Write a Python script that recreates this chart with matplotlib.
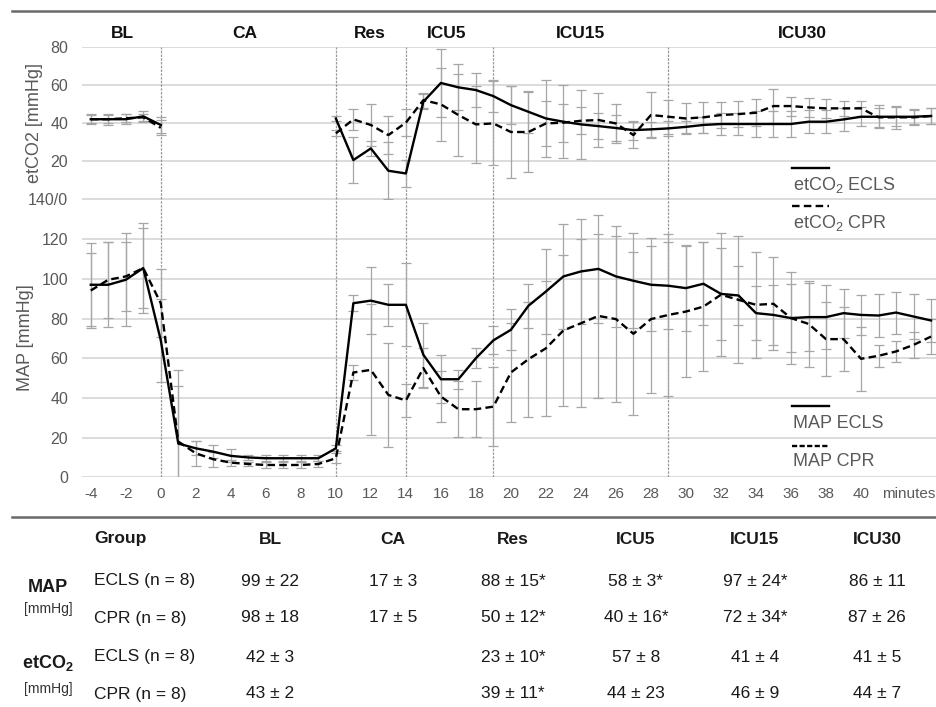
"""
MAP and etCO2 time course, ECLS vs CPR, with summary table below.
"""

import numpy as np
import matplotlib
matplotlib.use("Agg")
import matplotlib.pyplot as plt
from matplotlib.lines import Line2D
from matplotlib import transforms

plt.rcParams['font.family'] = ['Liberation Sans', 'DejaVu Sans']
plt.rcParams['mathtext.fontset'] = 'custom'
plt.rcParams['mathtext.rm'] = 'Liberation Sans'
plt.rcParams['mathtext.it'] = 'Liberation Sans:italic'
plt.rcParams['mathtext.bf'] = 'Liberation Sans:bold'

nan = np.nan

# time axis (minutes), one point per minute
minutes = list(range(-4, 45))

# MAP [mmHg]
map_ecls = [97, 97, 99.5, 105.4, 69,
            17, 14.6, 12.9, 10.8, 10, 9.6, 9.6, 9.6, 9.6,
            14.6, 87.7, 89, 86.9, 86.9, 61.7, 49.4, 49.4, 60, 69,
            74.3, 86.4, 93.6, 101.2, 103.7, 105, 101.2, 99, 97, 96.5,
            95.3, 97.5, 92.4, 91.6, 82.7, 81.8, 80.2, 80.7, 80.7, 82.7,
            81.8, 81.5, 83, 81, 79]
map_ecls_sd = [21, 21.5, 23.5, 22.6, 21,
               29, 3.5, 3.4, 3.3, 1.3, 1.5, 1.5, 1.5, 1.5,
               1.5, 4, 17, 10.6, 21, 16, 12, 4.7, 5, 7,
               10.4, 11, 21.4, 26.5, 26.4, 27.3, 25.5, 24, 23.5, 22,
               21.5, 21, 23, 15, 13.5, 15, 17, 17, 16.3, 12.3,
               10, 11, 10.6, 11.3, 10.7]
map_cpr = [94.1, 99.5, 101.2, 105.4, 87.7,
           18, 12.1, 9.1, 7.4, 6.7, 6.2, 6.2, 6.2, 6.7,
           9.6, 52.8, 54.1, 41.5, 38.7, 55, 40.7, 34.3, 34.3, 35.6,
           52.8, 59.5, 65, 74, 77.6, 81.3, 79.7, 72.3, 79.7, 81.8,
           83.5, 86, 92, 89.4, 86.9, 87.4, 80.2, 77.3, 69.6, 69.6,
           59.7, 61.2, 63.4, 66.7, 70.9]
map_cpr_sd = [19, 19, 17.5, 20, 17,
              36, 6.4, 3.7, 1.5, 1, 1.5, 1.5, 1.5, 1.5,
              2.5, 4, 33, 26.4, 8.4, 10, 13, 14, 14, 20,
              25, 29, 34, 38, 42.4, 41.5, 42, 41, 37, 41,
              33, 32.5, 31, 32, 26.7, 23.5, 23, 21.5, 18.5, 16.3,
              16, 5.7, 5.5, 6.7, 8.9]

# etCO2 [mmHg], not measured during CA
co2_ecls = [42, 42, 42, 43.5, 39,
            nan, nan, nan, nan, nan, nan, nan, nan, nan,
            42.4, 20.6, 26.7, 15, 13.6, 51.2, 61, 58.7, 57.3, 54.1,
            49.4, 45.9, 42.4, 40.7, 39.3, 38.4, 37.4, 36.3, 36.7, 37.2,
            38, 39, 39.5, 39.5, 39.5, 39.5, 39.5, 40.7, 40.7, 41.9,
            43.3, 43.3, 43.3, 43.3, 43.7]
co2_ecls_sd = [2.5, 3, 2.5, 3, 4,
               nan, nan, nan, nan, nan, nan, nan, nan, nan,
               1.5, 12, 4, 15, 7, 4, 18, 12, 9, 8.5,
               10, 11, 20, 19, 18, 7, 7, 5, 4, 4,
               3, 4, 6, 6, 7, 7, 7, 6, 6, 6,
               5, 6, 5, 4, 4]
co2_cpr = [42, 42, 42.5, 43, 37.5,
           nan, nan, nan, nan, nan, nan, nan, nan, nan,
           34.6, 41.9, 39, 33.7, 40.2, 52, 49.8, 44.2, 39.3, 39.8,
           35.3, 35.3, 39.8, 40.2, 41.2, 41.6, 39.8, 33.7, 44.2, 43.3,
           42.4, 43, 44.2, 44.7, 45.4, 48.9, 48.9, 48.2, 47.7, 47.7,
           47.7, 43, 43, 43, 43.7]
co2_cpr_sd = [2, 2, 2, 2, 4,
              nan, nan, nan, nan, nan, nan, nan, nan, nan,
              1.5, 5.3, 11, 10, 7, 4, 19, 21.5, 20, 22,
              24, 21, 12, 10, 7, 14, 10, 7, 12, 9,
              8, 8, 7, 7, 7, 9, 5, 5, 5, 4,
              4, 5, 6, 4, 4]

# phases
phase_names = ['BL', 'CA', 'Res', 'ICU5', 'ICU15', 'ICU30']
phase_label_x = [-2.2, 4.8, 11.95, 16.3, 23.95, 36.65]
phase_bounds = [0, 10, 14, 19, 29]

# summary table
table_cols = ['BL', 'CA', 'Res', 'ICU5', 'ICU15', 'ICU30']
table_groups = ['ECLS (n = 8)', 'CPR (n = 8)', 'ECLS (n = 8)', 'CPR (n = 8)']
map_ecls_row = ['99 ± 22', '17 ± 3', '88 ± 15*', '58 ± 3*', '97 ± 24*', '86 ± 11']
map_cpr_row = ['98 ± 18', '17 ± 5', '50 ± 12*', '40 ± 16*', '72 ± 34*', '87 ± 26']
co2_ecls_row = ['42 ± 3', '', '23 ± 10*', '57 ± 8', '41 ± 4', '41 ± 5']
co2_cpr_row = ['43 ± 2', '', '39 ± 11*', '44 ± 23', '46 ± 9', '44 ± 7']

W, H = 937, 707
fig = plt.figure(figsize=(W / 100, H / 100), dpi=100)


def fx(px):
    return px / W


def fy(py):
    return 1 - py / H


GRAY_TXT = '#595959'
GRID = '#d9d9d9'
EBAR = '#a6a6a6'

ax_map = fig.add_axes([fx(82), fy(477.3), fx(937) - fx(82), (477.3 - 199.4) / H])
ax_co2 = fig.add_axes([fx(82), fy(199.4), fx(937) - fx(82), (199.4 - 46.7) / H],
                      sharex=ax_map)

dash = (3.2, 1.8)
for ax, ecls, ecls_sd, cpr, cpr_sd in [
        (ax_map, map_ecls, map_ecls_sd, map_cpr, map_cpr_sd),
        (ax_co2, co2_ecls, co2_ecls_sd, co2_cpr, co2_cpr_sd)]:
    ax.errorbar(minutes, ecls, yerr=ecls_sd, fmt='none', ecolor=EBAR,
                elinewidth=0.9, capsize=3.6, capthick=0.9, zorder=2)
    ax.errorbar(minutes, cpr, yerr=cpr_sd, fmt='none', ecolor=EBAR,
                elinewidth=0.9, capsize=3.6, capthick=0.9, zorder=2)
    ax.plot(minutes, ecls, color='black', lw=1.7, zorder=4)
    ax.plot(minutes, cpr, color='black', lw=1.7, dashes=dash, zorder=4)
    for b in phase_bounds:
        ax.axvline(b, color='#9a9a9a', lw=0.9, ls=(0, (2, 1)), zorder=1)
    ax.grid(axis='y', color=GRID, lw=1.3, zorder=0)
    ax.set_axisbelow(True)
    for s in ax.spines.values():
        s.set_visible(False)
    ax.tick_params(length=0, labelcolor=GRAY_TXT)

ax_map.set_xlim(-4.5, 44.34)
ax_map.set_ylim(0, 140)
ax_map.set_yticks(range(0, 141, 20))
ax_map.set_yticklabels([str(v) for v in range(0, 121, 20)] + ['140/0'])
ax_map.tick_params(axis='y', labelsize=11.5, pad=10)
xt = list(range(-4, 41, 2))
ax_map.set_xticks(xt + [42.7])
ax_map.set_xticklabels([str(v) for v in xt] + ['minutes'])
ax_map.tick_params(axis='x', labelsize=11, pad=7)

ax_co2.set_ylim(0, 80)
ax_co2.set_yticks(range(0, 81, 20))
ax_co2.set_yticklabels([''] + [str(v) for v in range(20, 81, 20)])
ax_co2.tick_params(axis='y', labelsize=11.5, pad=10)
ax_co2.tick_params(axis='x', labelbottom=False)

fig.text(fx(35), fy(123), 'etCO2 [mmHg]', rotation=90, ha='center', va='center',
         color=GRAY_TXT, fontsize=13)
fig.text(fx(26), fy(338), 'MAP [mmHg]', rotation=90, ha='center', va='center',
         color=GRAY_TXT, fontsize=13)

# phase headers
trans = transforms.blended_transform_factory(ax_co2.transData, fig.transFigure)
for name, x in zip(phase_names, phase_label_x):
    ax_co2.text(x, fy(33), name, transform=trans, ha='center', va='center',
                fontweight='bold', fontsize=12.5, color='#111111', clip_on=False)

# legend (line sample above text)
leg = [(168, 185, 'etCO$_2$ ECLS', None),
       (206, 223, 'etCO$_2$ CPR', (3.2, 1.8)),
       (406, 423, 'MAP ECLS', None),
       (446, 462, 'MAP CPR', (2.2, 1.0))]
for ly, ty, txt, d in leg:
    ln = Line2D([fx(792), fx(829)], [fy(ly), fy(ly)], transform=fig.transFigure,
                color='black', lw=1.7)
    if d is not None:
        ln.set_dashes(d)
    fig.add_artist(ln)
    fig.text(fx(793), fy(ty), txt, ha='left', va='center', color=GRAY_TXT,
             fontsize=13)

# rules
for y in (11, 517):
    fig.add_artist(Line2D([fx(12), 1.0], [fy(y), fy(y)], transform=fig.transFigure,
                          color='#6a6a6a', lw=1.8))

# table
col_x = [270, 393, 513, 636, 755, 877]
row_y = [581, 618, 657, 694]
TXT = '#1a1a1a'
fig.text(fx(94), fy(539), 'Group', ha='left', va='center', fontweight='bold',
         fontsize=12.5, color=TXT)
for c, x in zip(table_cols, col_x):
    fig.text(fx(x), fy(539), c, ha='center', va='center', fontweight='bold',
             fontsize=12.5, color=TXT)
rows = [map_ecls_row, map_cpr_row, co2_ecls_row, co2_cpr_row]
for g, row, y in zip(table_groups, rows, row_y):
    fig.text(fx(94), fy(y), g, ha='left', va='center', fontsize=12.5, color=TXT)
    for v, x in zip(row, col_x):
        if v:
            fig.text(fx(x), fy(y), v, ha='center', va='center', fontsize=12.5,
                     color=TXT)

fig.text(fx(48), fy(587), 'MAP', ha='center', va='center', fontweight='bold',
         fontsize=13, color=TXT)
fig.text(fx(48), fy(609), '[mmHg]', ha='center', va='center', fontsize=10,
         color='#333333')
fig.text(fx(48), fy(663), r'etCO$_\mathbf{2}$', ha='center', va='center',
         fontweight='bold', fontsize=13, color=TXT)
fig.text(fx(48), fy(689), '[mmHg]', ha='center', va='center', fontsize=10,
         color='#333333')

fig.savefig('out.png', dpi=100)
